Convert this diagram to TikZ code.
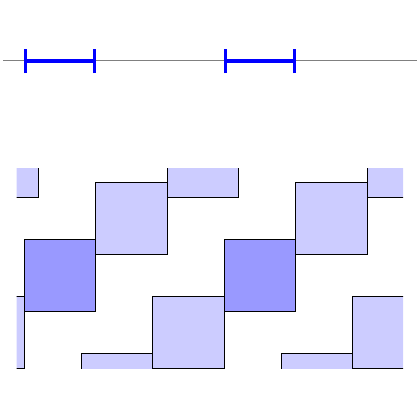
\documentclass[tikz,border=0pt]{standalone}
\begin{document}
\begin{tikzpicture}[x=1pt,y=-1pt,
  sq/.style={draw=black,line width=1pt},
  interval/.style={blue,line width=4pt},
  bar/.style={blue,line width=3pt}]
\useasboundingbox (0,0) rectangle (420,420);
% axis
\coordinate (axL) at (3,60.5);
\coordinate (axR) at (417,60.5);
\draw[gray,line width=1pt] (axL) -- (axR);
% intervals
\coordinate (i1a) at (25.3,61);
\coordinate (i1b) at (94.3,61);
\coordinate (i2a) at (225.7,61);
\coordinate (i2b) at (294.3,61);
\draw[interval] (i1a) -- (i1b);
\draw[interval] (i2a) -- (i2b);
\foreach \c in {i1a,i1b,i2a,i2b}{
  \draw[bar] ([yshift=-12pt]\c) -- ([yshift=12pt]\c);
}
% tiling
\begin{scope}
\clip (16.7,168) rectangle (403,368.7);
\foreach \m in {-3,...,3}{
  \foreach \n in {-3,...,3}{
    \pgfmathsetmacro\px{24.3+71.45*\m+128.55*\n}
    \pgfmathsetmacro\py{239.3-57*\m+57*\n}
    \ifnum\m=\n \def\fc{blue!40}\else\def\fc{blue!20}\fi
    \filldraw[sq,fill=\fc] (\px,\py) rectangle ++(71.45,71.8);
  }
}
\end{scope}
\end{tikzpicture}
\end{document}
